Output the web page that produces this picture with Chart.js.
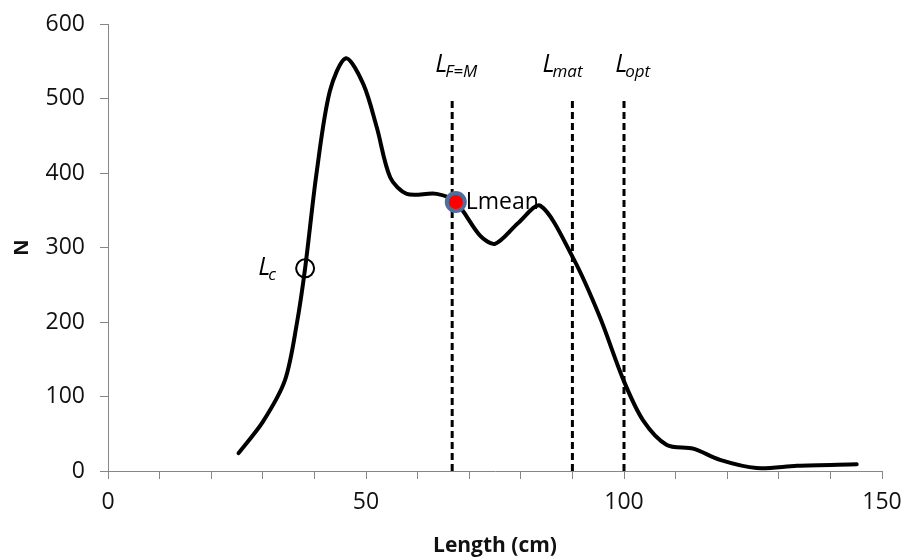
<!DOCTYPE html>
<html>
<head>
<meta charset="utf-8">
<title>Length frequency</title>
<script src="https://cdn.jsdelivr.net/npm/chart.js@4"></script>
<style>
  html, body { margin: 0; padding: 0; background: #fff; }
  canvas { display: block; }
</style>
</head>
<body>
<canvas id="lengthChart" width="904" height="559"></canvas>
<script>
// Length-frequency curve (smoothed)
const lengthCm = [25.3, 30.0, 34.3, 36.6, 38.2, 40.4, 43.0, 46.1, 49.5, 52.1, 54.7, 57.9, 63.7, 67.4, 72.1, 75.0, 79.5, 83.8, 90.2, 95.3, 99.9, 103.7, 108.3, 113.4, 118.6, 125.7, 133.5, 145.1];
const counts   = [24, 66, 122, 198, 272, 399, 510, 554, 519, 461, 394, 372, 372, 361, 316, 305, 333, 356, 285, 207, 122, 68, 35, 30, 15, 4, 7, 9];

// Reference lengths (cm) shown as dashed verticals
const refNames   = ['F=M', 'mat', 'opt'];
const refLengths = [66.7, 90, 100];
const refTop = 500;

// Marked points
const lcPoint = { x: 38.2, y: 272 };
const lmeanPoint = { x: 67.4, y: 361 };

const xTicksMin = 0, xTicksMax = 150;
const yTicksMin = 0, yTicksMax = 600;

const FONT = "'Open Sans', 'DejaVu Sans', sans-serif";
const AXIS_GREY = '#868686';

// where the italic L-labels sit (data units, left edge / baseline)
const labelSpots = [
  { sub: 'F=M', x: 63.4, y: 535 },
  { sub: 'mat', x: 84.2, y: 535 },
  { sub: 'opt', x: 98.3, y: 535 },
  { sub: 'c',   x: 29.1, y: 263 }
];

const refDatasets = refLengths.map((len, i) => ({
  label: 'L' + refNames[i],
  data: [{ x: len, y: 0 }, { x: len, y: refTop }],
  showLine: true,
  borderColor: '#000',
  borderWidth: 3,
  borderDash: [7, 4],
  pointRadius: 0
}));

const labelPlugin = {
  id: 'lLabels',
  afterDatasetsDraw(chart) {
    const { ctx, scales } = chart;
    ctx.save();
    ctx.fillStyle = '#000';
    ctx.textBaseline = 'alphabetic';
    ctx.textAlign = 'left';
    labelSpots.forEach(s => {
      const px = scales.x.getPixelForValue(s.x);
      const py = scales.y.getPixelForValue(s.y);
      ctx.font = `italic 25px ${FONT}`;
      ctx.fillText('L', px, py);
      const w = ctx.measureText('L').width;
      ctx.font = `italic 17px ${FONT}`;
      ctx.fillText(s.sub, px + w - 2, py + 5);
    });
    // Lmean tag beside its marker
    const mx = scales.x.getPixelForValue(lmeanPoint.x);
    const my = scales.y.getPixelForValue(lmeanPoint.y);
    ctx.font = `23px ${FONT}`;
    ctx.fillText('Lmean', mx + 10, my + 7);
    ctx.restore();
  }
};

new Chart(document.getElementById('lengthChart'), {
  type: 'scatter',
  data: {
    datasets: [
      {
        label: 'Lmean',
        data: [lmeanPoint],
        pointRadius: 9,
        pointBorderWidth: 4,
        pointBackgroundColor: '#ff0000',
        pointBorderColor: '#4f6e9d'
      },
      {
        label: 'Lc',
        data: [lcPoint],
        pointRadius: 9,
        pointBorderWidth: 2,
        pointBackgroundColor: 'rgba(0,0,0,0)',
        pointBorderColor: '#000'
      },
      {
        label: 'N',
        data: lengthCm.map((x, i) => ({ x, y: counts[i] })),
        showLine: true,
        borderColor: '#000',
        borderWidth: 4,
        pointRadius: 0,
        tension: 0.3,
        borderCapStyle: 'round',
        borderJoinStyle: 'round'
      },
      ...refDatasets
    ]
  },
  options: {
    responsive: false,
    animation: false,
    devicePixelRatio: 1,
    layout: { padding: 0 },
    plugins: {
      legend: { display: false },
      tooltip: { enabled: false }
    },
    scales: {
      x: {
        type: 'linear',
        min: xTicksMin,
        max: xTicksMax,
        afterFit(scale) {
          scale.height = 88;
          scale.paddingLeft = 0;
          scale.paddingRight = 22;
        },
        border: { color: AXIS_GREY, width: 1 },
        grid: { drawOnChartArea: false, color: AXIS_GREY, tickLength: 8 },
        ticks: {
          stepSize: 10,
          autoSkip: false,
          maxRotation: 0,
          padding: 10,
          color: '#111',
          font: { family: FONT, size: 23 },
          callback: v => (v % 50 === 0 ? String(v) : '')
        },
        title: {
          display: true,
          text: 'Length (cm)',
          color: '#111',
          font: { family: FONT, size: 21, weight: 'bold' },
          padding: { top: 0, bottom: 0 }
        }
      },
      y: {
        type: 'linear',
        min: yTicksMin,
        max: yTicksMax,
        afterFit(scale) {
          scale.width = 108;
          scale.paddingTop = 24;
          scale.paddingBottom = 0;
        },
        border: { color: AXIS_GREY, width: 1 },
        grid: { drawOnChartArea: false, color: AXIS_GREY, tickLength: 8 },
        ticks: {
          stepSize: 100,
          padding: 15,
          color: '#111',
          font: { family: FONT, size: 23 }
        },
        title: {
          display: true,
          text: 'N',
          color: '#111',
          font: { family: FONT, size: 20, weight: 'bold' },
          padding: { top: 10, bottom: 0 }
        }
      }
    }
  },
  plugins: [labelPlugin]
});
</script>
</body>
</html>
